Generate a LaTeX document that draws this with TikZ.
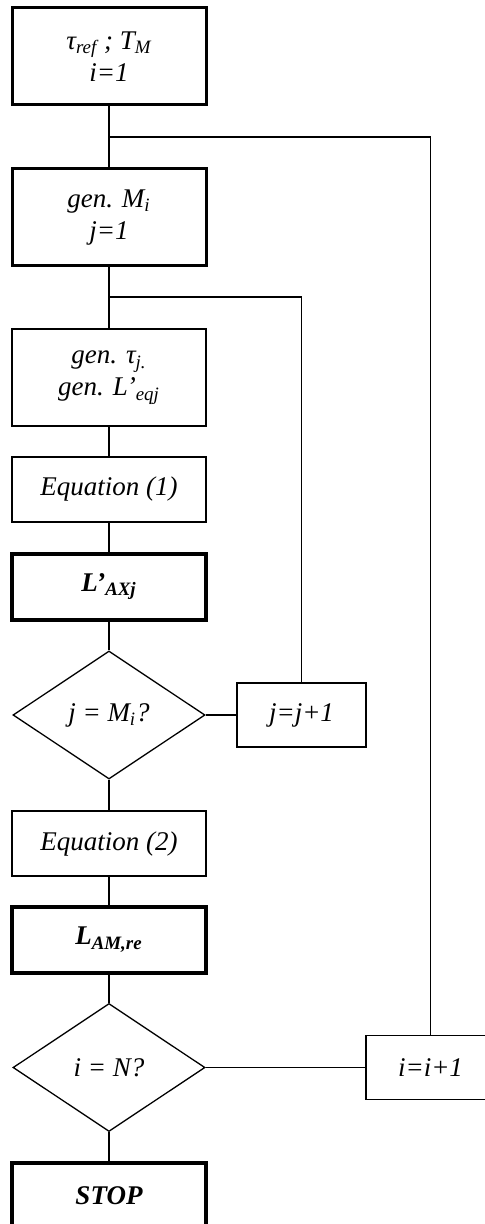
\documentclass[tikz,border=0pt]{standalone}
\usepackage{fontspec}
\setmainfont{Liberation Serif}
\usetikzlibrary{shapes,positioning}
\tikzset{
  basic/.style  = {draw, inner sep=0pt, align=center, rectangle,
                   font=\fontsize{13.5}{16}\selectfont\itshape},
  block/.style  = {basic, minimum width=97pt, minimum height=48.5pt, line width=1.5pt},
  calc/.style   = {basic, minimum width=97pt, minimum height=32.5pt, line width=0.75pt},
  result/.style = {basic, minimum width=97pt, minimum height=33pt, line width=2pt,
                   font=\fontsize{13.5}{16}\selectfont\bfseries\itshape},
  counter/.style = {basic, minimum width=64.5pt, minimum height=32pt, line width=0.75pt},
  decision/.style = {basic, diamond, minimum width=96pt, minimum height=64pt, line width=0.65pt},
  link/.style   = {line width=0.65pt}
}

\begin{document}
\begin{tikzpicture}[x=0.5pt,y=-0.5pt]
\useasboundingbox (0,0) rectangle (485,1224);
\clip (0,0) rectangle (485,1224);
% main column
\node[block] (start) at (109,56.5) {τ\textsubscript{ref} ; T\textsubscript{M}\\ i=1};
\node[block] (genM) at (109,217.5) {gen. M\textsubscript{i}\\ j=1};
\node[block, line width=1pt] (gentau) at (109,377.5) {gen. τ\textsubscript{j.}\\ gen. L’\textsubscript{eqj}};
\node[calc] (eqone) at (109,489.5) {Equation (1)};
\node[result] (lax) at (109,586.5) {L’\textsubscript{AXj}};
\node[decision] (testj) at (109,715) {j = M\textsubscript{i}?};
\node[calc] (eqtwo) at (109,843.5) {Equation (2)};
\node[result] (lam) at (109,939.5) {L\textsubscript{AM,re}};
\node[decision] (testi) at (109,1067.5) {i = N?};
\node[result] (stop) at (109,1195.5) {STOP};
% counters
\node[counter] (jinc) at (301.5,715) {j=j+1};
\node[counter] (iinc) at (430.5,1067.5) {i=i+1};
\coordinate (iloop) at (109,137);
\coordinate (jloop) at (109,297);

\draw[link] (start) -- (genM);
\draw[link] (genM) -- (gentau);
\draw[link] (gentau) -- (eqone);
\draw[link] (eqone) -- (lax);
\draw[link] (lax) -- (testj);
\draw[link] (testj) -- (eqtwo);
\draw[link] (eqtwo) -- (lam);
\draw[link] (lam) -- (testi);
\draw[link] (testi) -- (stop);
\draw[link] (testj) -- (jinc);
\draw[link] (testi) -- (iinc);
\draw[link] (jinc) |- (jloop);
\draw[link] (iinc) |- (iloop);
\end{tikzpicture}
\end{document}
